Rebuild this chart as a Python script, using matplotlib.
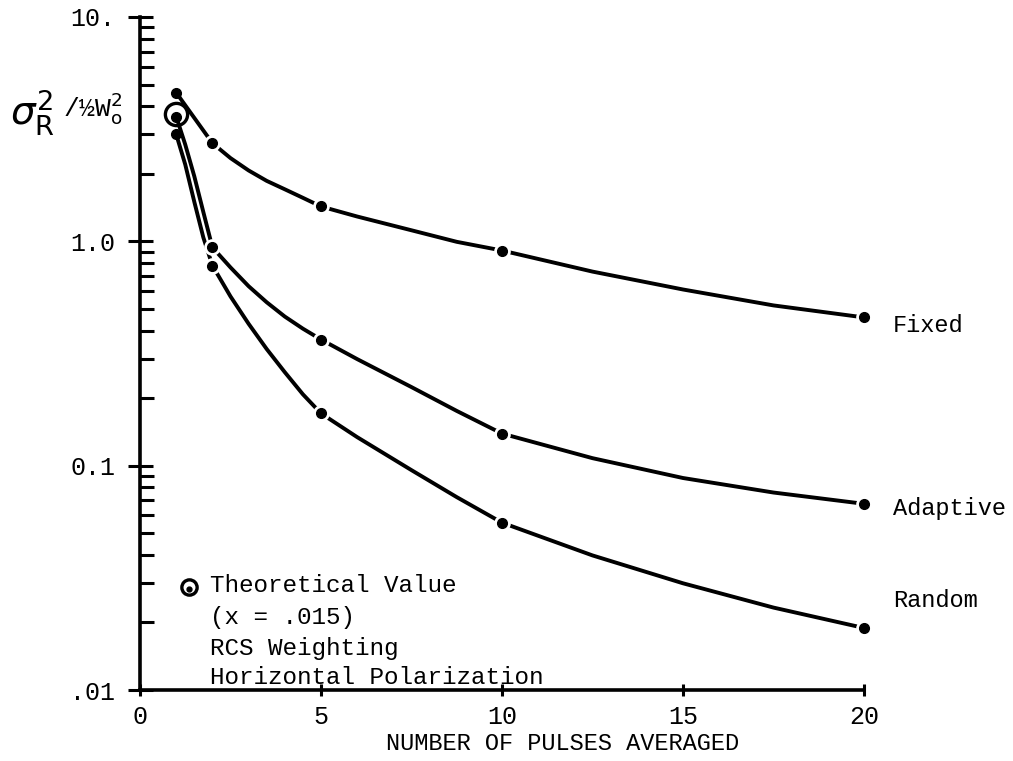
import matplotlib
matplotlib.use("Agg")
import matplotlib.pyplot as plt
from matplotlib.ticker import FixedLocator, LogLocator, NullFormatter

# measured points (dots on the curves)
pulses = [1, 2, 5, 10, 20]
fixed = [4.6, 2.74, 1.43, 0.91, 0.458]
adaptive = [3.6, 0.94, 0.365, 0.139, 0.0676]
random_ = [3.0, 0.78, 0.171, 0.0557, 0.0189]

# drawn (hand-faired) curves
fixed_tx = [1, 2, 2.5, 3, 3.5, 4, 4.5, 5, 6, 7.5, 8.75, 10, 12.5, 15, 17.5, 20]
fixed_ty = [4.6, 2.74, 2.35, 2.07, 1.86, 1.706, 1.563, 1.43, 1.29, 1.12, 0.995, 0.91,
            0.733, 0.61, 0.518, 0.458]
adaptive_tx = [1, 1.25, 1.5, 1.75, 2, 2.5, 3, 3.5, 4, 4.5, 5, 6, 7.5, 8.75, 10,
               12.5, 15, 17.5, 20]
adaptive_ty = [3.6, 2.7, 1.95, 1.35, 0.94, 0.765, 0.631, 0.535, 0.462, 0.408, 0.365,
               0.2985, 0.224, 0.1754, 0.139, 0.108, 0.0881, 0.0759, 0.0676]
random_tx = [1, 1.25, 1.5, 1.75, 2, 2.5, 3, 3.5, 4, 4.5, 5, 6, 7.5, 8.75, 10,
             12.5, 15, 17.5, 20]
random_ty = [3.0, 2.2, 1.5, 1.04, 0.78, 0.568, 0.429, 0.331, 0.261, 0.208, 0.171,
             0.134, 0.0955, 0.0724, 0.0557, 0.0398, 0.0299, 0.0233, 0.0189]

theory_x = [1]
theory_y = [3.69]

curve_names = ["Fixed", "Adaptive", "Random"]
name_y = [0.42, 0.0645, 0.025]

xticks = [0, 5, 10, 15, 20]
yticks = [0.01, 0.1, 1.0, 10.0]
ytick_labels = [".01", "0.1", "1.0", "10."]

mono = "Liberation Mono"

fig = plt.figure(figsize=(10.13, 7.61), dpi=100)
ax = fig.add_axes([140 / 1013, 1 - 690 / 761, 724 / 1013, 673 / 761])

ax.set_yscale("log")
ax.set_xlim(0, 20)
ax.set_ylim(0.01, 10)

lw = 2.8
for tx, ty, px, py in [(fixed_tx, fixed_ty, pulses, fixed),
                       (adaptive_tx, adaptive_ty, pulses, adaptive),
                       (random_tx, random_ty, pulses, random_)]:
    ax.plot(tx, ty, color="black", lw=lw, solid_capstyle="round",
            solid_joinstyle="round", zorder=2, clip_on=False)
    # small gaps where the pen lifted around each dot
    ax.plot(px[1:], py[1:], "o", color="white", ms=12, mec="none", zorder=3, clip_on=False)
    ax.plot(px, py, "o", color="black", ms=7, zorder=4, clip_on=False)

ax.plot(theory_x, theory_y, "o", mfc="none", mec="black", ms=16, mew=2.4, zorder=5)

for name, ny in zip(curve_names, name_y):
    ax.text(20.8, ny, name, fontsize=17, family=mono, va="center", ha="left")

# legend block
ax.plot([0.068], [0.153], "o", mfc="none", mec="black", ms=11, mew=2.4, transform=ax.transAxes)
ax.plot([0.068], [0.150], "o", color="black", ms=3.5, transform=ax.transAxes)
notes = ["Theoretical Value", "(x = .015)", "RCS Weighting", "Horizontal Polarization"]
note_y = [0.156, 0.108, 0.062, 0.018]
for t, ny in zip(notes, note_y):
    ax.text(0.0967, ny, t, fontsize=17.5, family=mono, va="center", ha="left",
            transform=ax.transAxes)

ax.spines["top"].set_visible(False)
ax.spines["right"].set_visible(False)
ax.spines["left"].set_linewidth(2.6)
ax.spines["bottom"].set_linewidth(2.6)

ax.xaxis.set_major_locator(FixedLocator(xticks))
ax.set_xticklabels([str(v) for v in xticks], family=mono, fontsize=18)
ax.tick_params(axis="x", direction="inout", length=9, width=2.2, pad=6)

ax.yaxis.set_major_locator(FixedLocator(yticks))
ax.set_yticklabels(ytick_labels, family=mono, fontsize=18)
ax.yaxis.set_minor_locator(LogLocator(base=10, subs=range(2, 10)))
ax.yaxis.set_minor_formatter(NullFormatter())
ax.tick_params(axis="y", which="major", direction="inout", length=18, width=2.2, pad=9)
ax.tick_params(axis="y", which="minor", direction="in", length=10, width=2.2)

ax.set_xlabel("NUMBER OF PULSES AVERAGED", family=mono, fontsize=17)
ax.xaxis.set_label_coords(0.583, -0.062)

fig.text(10 / 1013, 1 - 113 / 761, r"$\sigma^2_{\rm R}$", fontsize=28, va="center", ha="left")
fig.text(63 / 1013, 1 - 108 / 761, r"/½W$_{\rm o}^2$", fontsize=19, va="center", ha="left",
         family=mono)

fig.savefig("out.png", dpi=100)
